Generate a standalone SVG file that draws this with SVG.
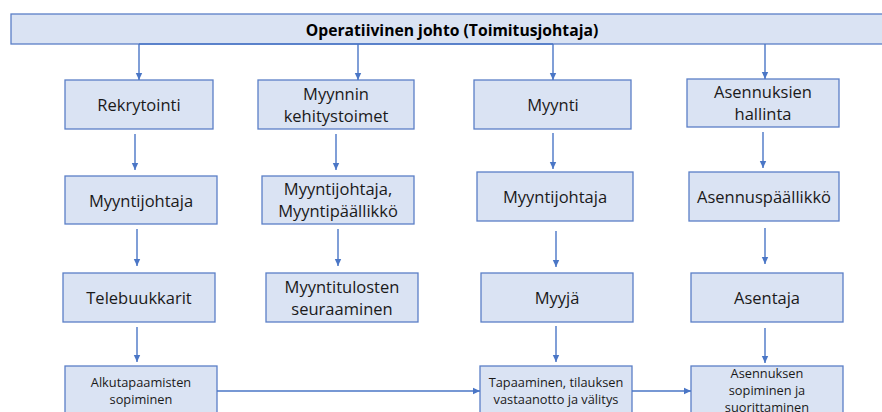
<svg xmlns="http://www.w3.org/2000/svg" width="882" height="412" viewBox="0 0 882 412">
<style>
.box{fill:#dae3f3;stroke:#5b7fc7;stroke-width:1.3}
.t{font-family:"Open Sans","Liberation Sans",sans-serif;font-size:16.5px;fill:#1a1a1a;text-anchor:middle}
.s{font-family:"Open Sans","Liberation Sans",sans-serif;font-size:12.8px;fill:#1a1a1a;text-anchor:middle}
.h{font-family:"Open Sans","Liberation Sans",sans-serif;font-size:15.7px;font-weight:bold;fill:#000;text-anchor:middle}
.c{fill:none;stroke:#4a76c6;stroke-width:1.4}
.a{marker-end:url(#ah)}
</style>
<defs>
<marker id="ah" markerUnits="userSpaceOnUse" markerWidth="8" markerHeight="8" refX="7" refY="4" orient="auto">
<path d="M0,0.8 L7,4 L0,7.2 Z" fill="#4a76c6"/>
</marker>
</defs>
<rect width="882" height="412" fill="#fff"/>
<g id="top">
<rect class="box" x="11" y="14" width="880" height="30"/>
<text class="h" x="452" y="36">Operatiivinen johto (Toimitusjohtaja)</text>
</g>
<g id="rekrytointi"><rect class="box" x="65" y="80" width="148" height="49"/><text class="t" x="139" y="111">Rekrytointi</text></g>
<g id="myynnin-kehitystoimet"><rect class="box" x="258" y="80" width="156" height="49"/><text class="t" x="336" y="100">Myynnin</text><text class="t" x="336" y="122">kehitystoimet</text></g>
<g id="myynti"><rect class="box" x="474" y="80" width="157" height="49"/><text class="t" x="553" y="111">Myynti</text></g>
<g id="asennuksien-hallinta"><rect class="box" x="687" y="79" width="152" height="48"/><text class="t" x="763" y="98">Asennuksien</text><text class="t" x="763" y="120">hallinta</text></g>
<g id="myyntijohtaja1"><rect class="box" x="65" y="176" width="152" height="48"/><text class="t" x="141" y="207">Myyntijohtaja</text></g>
<g id="myyntijohtaja-myyntipaallikko"><rect class="box" x="262" y="176" width="152" height="48"/><text class="t" x="338" y="195">Myyntijohtaja,</text><text class="t" x="338" y="217">Myyntipäällikkö</text></g>
<g id="myyntijohtaja2"><rect class="box" x="477" y="172" width="156" height="49"/><text class="t" x="555" y="203">Myyntijohtaja</text></g>
<g id="asennuspaallikko"><rect class="box" x="689" y="172" width="150" height="49"/><text class="t" x="764" y="203">Asennuspäällikkö</text></g>
<g id="telebuukkarit"><rect class="box" x="63" y="273" width="152" height="49"/><text class="t" x="139" y="304">Telebuukkarit</text></g>
<g id="myyntitulosten-seuraaminen"><rect class="box" x="266" y="273" width="152" height="49"/><text class="t" x="342" y="293">Myyntitulosten</text><text class="t" x="342" y="315">seuraaminen</text></g>
<g id="myyja"><rect class="box" x="481" y="273" width="152" height="49"/><text class="t" x="557" y="304">Myyjä</text></g>
<g id="asentaja"><rect class="box" x="691" y="273" width="152" height="49"/><text class="t" x="767" y="304">Asentaja</text></g>
<g id="alkutapaamisten-sopiminen"><rect class="box" x="65" y="366" width="152" height="60"/><text class="s" x="141" y="387">Alkutapaamisten</text><text class="s" x="141" y="404">sopiminen</text></g>
<g id="tapaaminen"><rect class="box" x="480" y="366" width="152" height="60"/><text class="s" x="556" y="387">Tapaaminen, tilauksen</text><text class="s" x="556" y="404">vastaanotto ja välitys</text></g>
<g id="asennuksen-sopiminen"><rect class="box" x="691" y="366" width="152" height="60"/><text class="s" x="767" y="378">Asennuksen</text><text class="s" x="767" y="395">sopiminen ja</text><text class="s" x="767" y="412">suorittaminen</text></g>
<g id="connectors">
<path class="c" d="M139,44 H553"/>
<path class="c a" d="M139,44 V80"/>
<path class="c a" d="M358,44 V80"/>
<path class="c a" d="M553,44 V80"/>
<path class="c a" d="M765,44 V79"/>
<path class="c a" d="M135,134 V170"/>
<path class="c a" d="M336,134 V170"/>
<path class="c a" d="M553,133 V169"/>
<path class="c a" d="M763,132 V168"/>
<path class="c a" d="M137,229 V266"/>
<path class="c a" d="M338,229 V266"/>
<path class="c a" d="M556,231 V267"/>
<path class="c a" d="M765,228 V264"/>
<path class="c a" d="M137,327 V362"/>
<path class="c a" d="M556,326 V362"/>
<path class="c a" d="M765,328 V363"/>
<path class="c a" d="M217,391 H480"/>
<path class="c a" d="M632,391 H691"/>
</g>
</svg>
